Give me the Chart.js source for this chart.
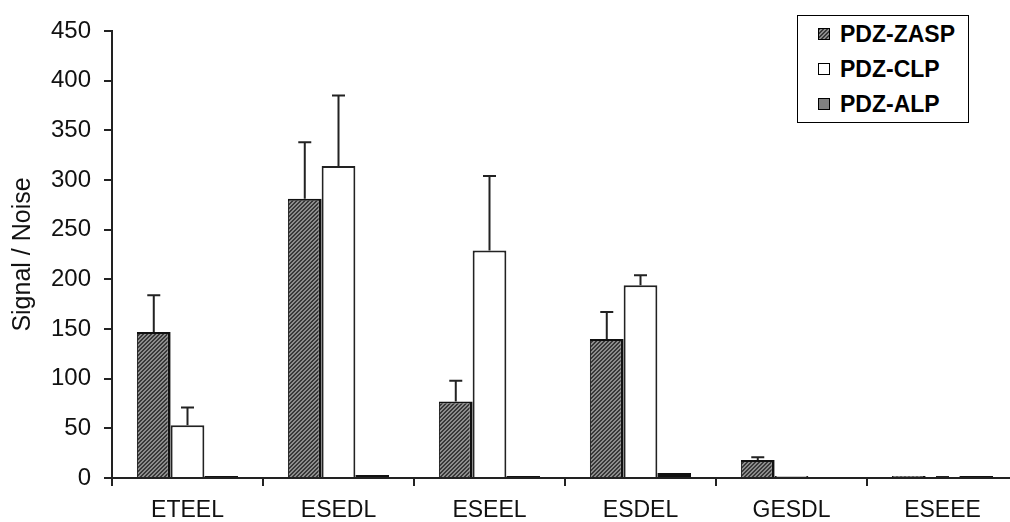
<!DOCTYPE html>
<html>
<head>
<meta charset="utf-8">
<script src="https://cdn.jsdelivr.net/npm/chart.js@4.4.1/dist/chart.umd.min.js"></script>
<style>
  html, body { margin: 0; padding: 0; background: #fff; overflow: hidden; }
  #wrap { position: relative; width: 1030px; height: 522px; }
  #legend {
    position: absolute; left: 797px; top: 15px; width: 170px; height: 106px;
    border: 1px solid #000; background: #fff;
    font-family: "Liberation Sans", Arial, sans-serif; font-weight: bold; font-size: 23px; color: #000;
  }
  .item { position: absolute; left: 20px; height: 24px; line-height: 24px; white-space: nowrap; }
  .sw { position: absolute; left: 0; top: 6px; width: 10px; height: 10px; border: 1px solid #000; }
  .lbl { position: absolute; left: 22px; top: 0; }
</style>
</head>
<body>
<div id="wrap">
  <canvas id="c"></canvas>
  <div id="legend"></div>
</div>
<script>
const categories = ["ETEEL", "ESEDL", "ESEEL", "ESDEL", "GESDL", "ESEEE"];
const seriesNames = ["PDZ-ZASP", "PDZ-CLP", "PDZ-ALP"];
const zaspValues = [147, 281, 77, 140, 18, 2];
const zaspErrors = [37, 57, 21, 27, 3, 0];
const clpValues = [53, 314, 229, 194, 2, 0];
const clpErrors = [18, 71, 75, 10, 0, 1];
const alpValues = [2, 3, 2, 5, 0, 2];
const alpErrors = [0, 0, 0, 0, 0, 0];
const yTicks = [0, 50, 100, 150, 200, 250, 300, 350, 400, 450];
const yTitle = "Signal / Noise";

// hatch pattern for PDZ-ZASP
function makeHatch() {
  const p = document.createElement('canvas');
  p.width = 4; p.height = 4;
  const g = p.getContext('2d');
  const img = g.createImageData(4, 4);
  for (let y = 0; y < 4; y++) for (let x = 0; x < 4; x++) {
    const dark = ((x + y) % 4) < 2;
    const v = dark ? 0x38 : 0x8c;
    const i = (y * 4 + x) * 4;
    img.data[i] = v; img.data[i+1] = v; img.data[i+2] = v; img.data[i+3] = 255;
  }
  g.putImageData(img, 0, 0);
  return g.createPattern(p, 'repeat');
}
const hatch = makeHatch();

const errorSets = [zaspErrors, clpErrors, alpErrors];

const errorBarPlugin = {
  id: 'errorBars',
  afterDatasetsDraw(chart) {
    const ctx = chart.ctx;
    const yScale = chart.scales.y;
    ctx.save();
    ctx.strokeStyle = '#222';
    ctx.lineWidth = 2;
    chart.data.datasets.forEach((ds, di) => {
      const errs = errorSets[di];
      const meta = chart.getDatasetMeta(di);
      meta.data.forEach((el, i) => {
        const e = errs[i];
        if (!e) return;
        const top = yScale.getPixelForValue(ds.data[i] + e);
        const base = yScale.getPixelForValue(ds.data[i]);
        ctx.beginPath();
        ctx.moveTo(el.x, base);
        ctx.lineTo(el.x, top);
        ctx.moveTo(el.x - 6.5, top);
        ctx.lineTo(el.x + 6.5, top);
        ctx.stroke();
      });
    });
    ctx.restore();
  }
};

const fontFamily = '"Liberation Sans", Arial, sans-serif';

new Chart(document.getElementById('c'), {
  type: 'bar',
  data: {
    labels: categories,
    datasets: [
      { label: seriesNames[0], data: zaspValues, backgroundColor: hatch, borderColor: '#111',
        borderWidth: { top: 2, left: 1, right: 3, bottom: 0 }, borderSkipped: 'start' },
      { label: seriesNames[1], data: clpValues, backgroundColor: '#ffffff', borderColor: '#222',
        borderWidth: 2, borderSkipped: 'start' },
      { label: seriesNames[2], data: alpValues, backgroundColor: '#808080', borderColor: '#111',
        borderWidth: 2, borderSkipped: false }
    ]
  },
  options: {
    responsive: true,
    maintainAspectRatio: false,
    animation: false,
    datasets: { bar: { categoryPercentage: 0.67, barPercentage: 1.0 } },
    layout: { padding: { top: 31, right: 12, bottom: 0, left: 0 } },
    plugins: { legend: { display: false }, tooltip: { enabled: false } },
    scales: {
      x: {
        afterFit(s) { s.height = 44; },
        grid: { drawOnChartArea: false, drawTicks: true, tickLength: 8, color: '#222', lineWidth: 2, offset: true },
        border: { display: true, color: '#222', width: 2 },
        ticks: { color: '#111', font: { family: fontFamily, size: 23 }, padding: 11, maxRotation: 0 }
      },
      y: {
        min: 0, max: 450,
        afterFit(s) { s.width = 112; },
        afterBuildTicks(s) { s.ticks = yTicks.map(v => ({ value: v })); },
        grid: { drawOnChartArea: false, drawTicks: true, tickLength: 8, color: '#222', lineWidth: 2 },
        border: { display: true, color: '#222', width: 2 },
        ticks: { color: '#111', font: { family: fontFamily, size: 24 }, padding: 13 },
        title: { display: true, text: yTitle, color: '#111', font: { family: fontFamily, size: 25 }, padding: { top: 8, bottom: 0 } }
      }
    }
  },
  plugins: [errorBarPlugin]
});

// HTML legend
const swatchStyles = [
  'background: repeating-linear-gradient(135deg, #383838 0px, #383838 1.4px, #8c8c8c 1.4px, #8c8c8c 2.8px);',
  'background: #ffffff;',
  'background: #808080;'
];
const legendTops = [6, 41, 76];
const legend = document.getElementById('legend');
seriesNames.forEach((name, i) => {
  const it = document.createElement('div');
  it.className = 'item';
  it.style.top = legendTops[i] + 'px';
  it.innerHTML = '<span class="sw" style="' + swatchStyles[i] + '"></span><span class="lbl"></span>';
  it.querySelector('.lbl').textContent = name;
  legend.appendChild(it);
});
</script>
</body>
</html>
